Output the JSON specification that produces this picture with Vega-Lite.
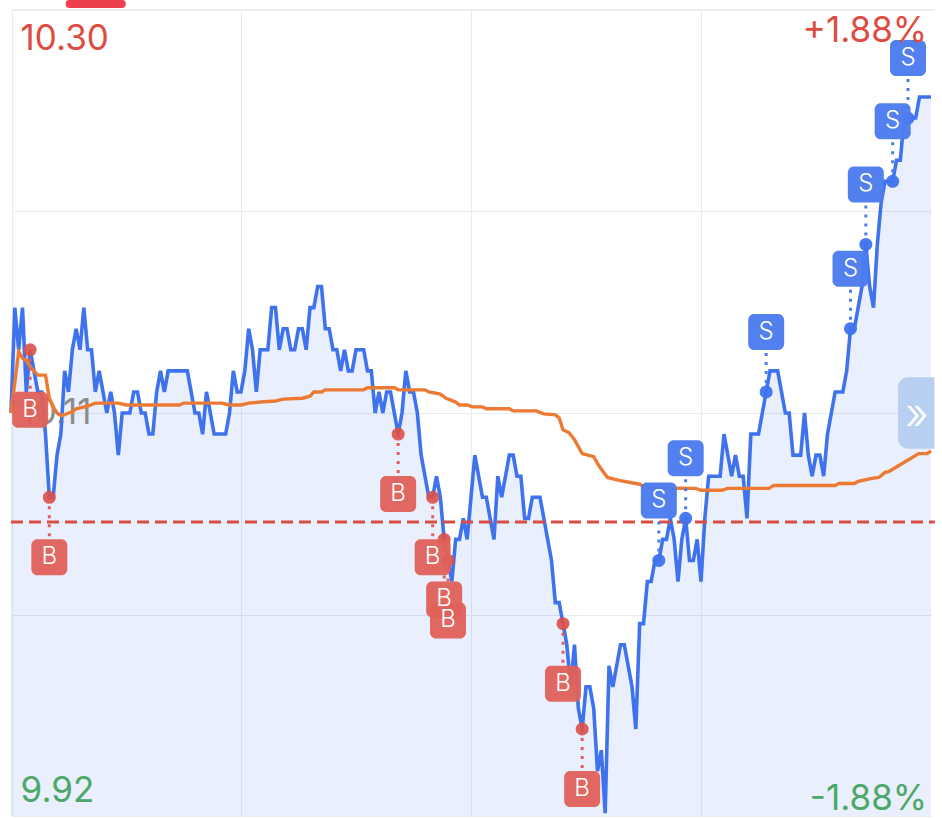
{"$schema":"https://vega.github.io/schema/vega-lite/v6.json","width":920,"height":806,"padding":{"left":11,"top":10,"right":11,"bottom":2},"autosize":"none","background":"#ffffff","config":{"view":{"stroke":null},"font":"Inter"},
"datasets":{
"blue":[{"m":0,"p":10.11},{"m":1,"p":10.16},{"m":2,"p":10.14},{"m":3,"p":10.16},{"m":4,"p":10.12},{"m":5,"p":10.14},{"m":6,"p":10.13},{"m":7,"p":10.12},{"m":8,"p":10.12},{"m":9,"p":10.10},{"m":10,"p":10.07},{"m":11,"p":10.07},{"m":12,"p":10.09},{"m":13,"p":10.10},{"m":14,"p":10.13},{"m":15,"p":10.12},{"m":16,"p":10.14},{"m":17,"p":10.15},{"m":18,"p":10.14},{"m":19,"p":10.16},{"m":20,"p":10.14},{"m":21,"p":10.14},{"m":22,"p":10.12},{"m":23,"p":10.13},{"m":24,"p":10.12},{"m":25,"p":10.11},{"m":26,"p":10.12},{"m":27,"p":10.11},{"m":28,"p":10.09},{"m":29,"p":10.11},{"m":30,"p":10.11},{"m":31,"p":10.11},{"m":32,"p":10.12},{"m":33,"p":10.12},{"m":34,"p":10.11},{"m":35,"p":10.11},{"m":36,"p":10.10},{"m":37,"p":10.10},{"m":38,"p":10.12},{"m":39,"p":10.13},{"m":40,"p":10.12},{"m":41,"p":10.13},{"m":42,"p":10.13},{"m":43,"p":10.13},{"m":44,"p":10.13},{"m":45,"p":10.13},{"m":46,"p":10.13},{"m":47,"p":10.12},{"m":48,"p":10.11},{"m":49,"p":10.11},{"m":50,"p":10.10},{"m":51,"p":10.12},{"m":52,"p":10.11},{"m":53,"p":10.10},{"m":54,"p":10.10},{"m":55,"p":10.10},{"m":56,"p":10.10},{"m":57,"p":10.11},{"m":58,"p":10.13},{"m":59,"p":10.12},{"m":60,"p":10.12},{"m":61,"p":10.13},{"m":62,"p":10.15},{"m":63,"p":10.14},{"m":64,"p":10.12},{"m":65,"p":10.14},{"m":66,"p":10.14},{"m":67,"p":10.14},{"m":68,"p":10.16},{"m":69,"p":10.16},{"m":70,"p":10.14},{"m":71,"p":10.15},{"m":72,"p":10.15},{"m":73,"p":10.14},{"m":74,"p":10.14},{"m":75,"p":10.15},{"m":76,"p":10.15},{"m":77,"p":10.14},{"m":78,"p":10.16},{"m":79,"p":10.16},{"m":80,"p":10.17},{"m":81,"p":10.17},{"m":82,"p":10.15},{"m":83,"p":10.15},{"m":84,"p":10.14},{"m":85,"p":10.14},{"m":86,"p":10.13},{"m":87,"p":10.14},{"m":88,"p":10.13},{"m":89,"p":10.13},{"m":90,"p":10.14},{"m":91,"p":10.14},{"m":92,"p":10.14},{"m":93,"p":10.13},{"m":94,"p":10.13},{"m":95,"p":10.11},{"m":96,"p":10.12},{"m":97,"p":10.11},{"m":98,"p":10.12},{"m":99,"p":10.12},{"m":100,"p":10.11},{"m":101,"p":10.10},{"m":102,"p":10.11},{"m":103,"p":10.13},{"m":104,"p":10.12},{"m":105,"p":10.12},{"m":106,"p":10.11},{"m":107,"p":10.09},{"m":108,"p":10.08},{"m":109,"p":10.07},{"m":110,"p":10.07},{"m":111,"p":10.08},{"m":112,"p":10.07},{"m":113,"p":10.05},{"m":114,"p":10.04},{"m":115,"p":10.03},{"m":116,"p":10.05},{"m":117,"p":10.05},{"m":118,"p":10.06},{"m":119,"p":10.05},{"m":120,"p":10.07},{"m":121,"p":10.09},{"m":122,"p":10.08},{"m":123,"p":10.07},{"m":124,"p":10.07},{"m":125,"p":10.06},{"m":126,"p":10.05},{"m":127,"p":10.08},{"m":128,"p":10.07},{"m":129,"p":10.08},{"m":130,"p":10.09},{"m":131,"p":10.09},{"m":132,"p":10.08},{"m":133,"p":10.08},{"m":134,"p":10.06},{"m":135,"p":10.06},{"m":136,"p":10.07},{"m":137,"p":10.07},{"m":138,"p":10.07},{"m":139,"p":10.06},{"m":140,"p":10.05},{"m":141,"p":10.04},{"m":142,"p":10.02},{"m":143,"p":10.02},{"m":144,"p":10.01},{"m":145,"p":10.00},{"m":146,"p":9.98},{"m":147,"p":10.00},{"m":148,"p":9.97},{"m":149,"p":9.96},{"m":150,"p":9.98},{"m":151,"p":9.98},{"m":152,"p":9.97},{"m":153,"p":9.94},{"m":154,"p":9.95},{"m":155,"p":9.92},{"m":156,"p":9.99},{"m":157,"p":9.98},{"m":158,"p":9.99},{"m":159,"p":10.00},{"m":160,"p":10.00},{"m":161,"p":9.99},{"m":162,"p":9.98},{"m":163,"p":9.96},{"m":164,"p":10.01},{"m":165,"p":10.01},{"m":166,"p":10.03},{"m":167,"p":10.03},{"m":168,"p":10.04},{"m":169,"p":10.04},{"m":170,"p":10.05},{"m":171,"p":10.05},{"m":172,"p":10.06},{"m":173,"p":10.05},{"m":174,"p":10.03},{"m":175,"p":10.05},{"m":176,"p":10.06},{"m":177,"p":10.04},{"m":178,"p":10.04},{"m":179,"p":10.05},{"m":180,"p":10.03},{"m":181,"p":10.06},{"m":182,"p":10.08},{"m":183,"p":10.08},{"m":184,"p":10.08},{"m":185,"p":10.08},{"m":186,"p":10.10},{"m":187,"p":10.09},{"m":188,"p":10.08},{"m":189,"p":10.09},{"m":190,"p":10.08},{"m":191,"p":10.08},{"m":192,"p":10.06},{"m":193,"p":10.10},{"m":194,"p":10.10},{"m":195,"p":10.10},{"m":196,"p":10.11},{"m":197,"p":10.12},{"m":198,"p":10.13},{"m":199,"p":10.13},{"m":200,"p":10.13},{"m":201,"p":10.12},{"m":202,"p":10.11},{"m":203,"p":10.11},{"m":204,"p":10.09},{"m":205,"p":10.09},{"m":206,"p":10.09},{"m":207,"p":10.11},{"m":208,"p":10.09},{"m":209,"p":10.08},{"m":210,"p":10.09},{"m":211,"p":10.09},{"m":212,"p":10.08},{"m":213,"p":10.10},{"m":214,"p":10.11},{"m":215,"p":10.12},{"m":216,"p":10.12},{"m":217,"p":10.12},{"m":218,"p":10.13},{"m":219,"p":10.15},{"m":220,"p":10.15},{"m":221,"p":10.16},{"m":222,"p":10.17},{"m":223,"p":10.19},{"m":224,"p":10.17},{"m":225,"p":10.16},{"m":226,"p":10.19},{"m":227,"p":10.21},{"m":228,"p":10.22},{"m":229,"p":10.22},{"m":230,"p":10.22},{"m":231,"p":10.23},{"m":232,"p":10.23},{"m":233,"p":10.25},{"m":234,"p":10.25},{"m":235,"p":10.25},{"m":236,"p":10.25},{"m":237,"p":10.26},{"m":238,"p":10.26},{"m":239,"p":10.26},{"m":240,"p":10.26}],
"avg":[{"m":0,"p":10.11},{"m":2,"p":10.139},{"m":3,"p":10.136},{"m":4,"p":10.135},{"m":5,"p":10.132},{"m":6,"p":10.13},{"m":7,"p":10.128},{"m":9,"p":10.128},{"m":10,"p":10.117},{"m":11,"p":10.113},{"m":12,"p":10.11},{"m":13,"p":10.1087},{"m":14,"p":10.1092},{"m":15,"p":10.11},{"m":16,"p":10.1105},{"m":17,"p":10.112},{"m":20,"p":10.1133},{"m":22,"p":10.1147},{"m":28,"p":10.1147},{"m":30,"p":10.1138},{"m":44,"p":10.1138},{"m":45,"p":10.1147},{"m":55,"p":10.1147},{"m":57,"p":10.1138},{"m":60,"p":10.1138},{"m":62,"p":10.1147},{"m":65,"p":10.1152},{"m":69,"p":10.1157},{"m":71,"p":10.1166},{"m":76,"p":10.117},{"m":78,"p":10.118},{"m":79,"p":10.12},{"m":81,"p":10.12},{"m":82,"p":10.121},{"m":92,"p":10.121},{"m":93,"p":10.122},{"m":100,"p":10.122},{"m":101,"p":10.121},{"m":108,"p":10.121},{"m":109,"p":10.12},{"m":112,"p":10.119},{"m":113.5,"p":10.117},{"m":116,"p":10.1152},{"m":117,"p":10.1138},{"m":119,"p":10.1138},{"m":120.4,"p":10.1129},{"m":123,"p":10.1129},{"m":124,"p":10.112},{"m":130,"p":10.112},{"m":131,"p":10.111},{"m":137,"p":10.111},{"m":139,"p":10.1096},{"m":142,"p":10.1091},{"m":143,"p":10.1077},{"m":144,"p":10.102},{"m":145.6,"p":10.1006},{"m":147,"p":10.0973},{"m":149,"p":10.0907},{"m":152,"p":10.0893},{"m":153.5,"p":10.0846},{"m":155.6,"p":10.0794},{"m":158.6,"p":10.078},{"m":164,"p":10.0762},{"m":165.5,"p":10.0744},{"m":178.6,"p":10.0742},{"m":180,"p":10.0733},{"m":185.5,"p":10.0733},{"m":186.9,"p":10.0742},{"m":197.7,"p":10.0742},{"m":199,"p":10.0756},{"m":215,"p":10.0756},{"m":216,"p":10.0765},{"m":220,"p":10.0765},{"m":221,"p":10.0775},{"m":224.6,"p":10.079},{"m":226.4,"p":10.0794},{"m":228,"p":10.0818},{"m":229,"p":10.0822},{"m":236.8,"p":10.0907},{"m":239,"p":10.0907},{"m":240,"p":10.092}],
"trades":[{"m":5,"p":10.14,"side":"B"},{"m":10,"p":10.07,"side":"B"},{"m":101,"p":10.10,"side":"B"},{"m":110,"p":10.07,"side":"B"},{"m":113,"p":10.05,"side":"B"},{"m":114,"p":10.04,"side":"B"},{"m":144,"p":10.01,"side":"B"},{"m":149,"p":9.96,"side":"B"},{"m":169,"p":10.04,"side":"S"},{"m":176,"p":10.06,"side":"S"},{"m":197,"p":10.12,"side":"S"},{"m":219,"p":10.15,"side":"S"},{"m":223,"p":10.19,"side":"S"},{"m":230,"p":10.22,"side":"S"},{"m":234,"p":10.25,"side":"S"}]
},
"encoding":{
"x":{"field":"m","type":"quantitative","scale":{"domain":[0,240],"nice":false,"zero":false},"axis":{"values":[0.2,60,120,180,241],"labels":false,"ticks":false,"domain":false,"title":null,"grid":true,"gridColor":"#e8ebf1","gridWidth":1}},
"y":{"field":"p","type":"quantitative","scale":{"domain":[9.9187,10.3013],"nice":false,"zero":false},"axis":{"values":[9.9187,10.0142,10.11,10.2058,10.3013],"labels":false,"ticks":false,"domain":false,"title":null,"grid":true,"gridColor":"#e8ebf1","gridWidth":1}}
},
"layer":[
{"data":{"name":"blue"},"mark":{"type":"area","color":"#3f73ee","opacity":0.115},"encoding":{"y2":{"datum":9.9187}}},
{"data":{"values":[{"t":"10.11","m":2.5,"p":10.11}]},"mark":{"type":"text","align":"left","baseline":"middle","fontSize":35,"color":"#8c8c8c"},"encoding":{"text":{"field":"t"}}},
{"data":{"name":"blue"},"mark":{"type":"line","color":"#3f73ee","strokeWidth":3.6,"strokeJoin":"miter","strokeMiterLimit":4}},
{"data":{"name":"avg"},"mark":{"type":"line","color":"#ec7a33","strokeWidth":3.4}},
{"data":{"values":[{"m":0,"m2":241,"p":10.0583}]},"mark":{"type":"rule","color":"#da4d44","strokeWidth":3,"strokeDash":[12,6]},"encoding":{"x2":{"field":"m2"}}},
{"data":{"name":"trades"},"transform":[{"filter":"datum.side==='B'"}],"mark":{"type":"rule","color":"#e0605a","strokeWidth":3,"strokeDash":[3,6],"y2Offset":40},"encoding":{"y2":{"field":"p"}}},
{"data":{"name":"trades"},"transform":[{"filter":"datum.side==='S'"}],"mark":{"type":"rule","color":"#4c7cee","strokeWidth":3,"strokeDash":[3,6],"y2Offset":-40},"encoding":{"y2":{"field":"p"}}},
{"data":{"name":"trades"},"transform":[{"filter":"datum.side==='B'"}],"mark":{"type":"point","shape":"circle","filled":true,"size":170,"color":"#dc5049","opacity":0.9}},
{"data":{"name":"trades"},"transform":[{"filter":"datum.side==='S'"}],"mark":{"type":"point","shape":"circle","filled":true,"size":170,"color":"#3f73ee","opacity":0.95}},
{"data":{"name":"trades"},"transform":[{"filter":"datum.side==='B'"}],"mark":{"type":"rect","width":36,"height":36,"cornerRadius":6,"color":"#e0605a","opacity":0.95,"yOffset":60}},
{"data":{"name":"trades"},"transform":[{"filter":"datum.side==='S'"}],"mark":{"type":"rect","width":36,"height":36,"cornerRadius":6,"color":"#4c7cee","opacity":0.97,"yOffset":-60}},
{"data":{"name":"trades"},"transform":[{"filter":"datum.side==='B'"}],"mark":{"type":"text","color":"#ffffff","fontSize":24,"fontWeight":300,"baseline":"middle","yOffset":60},"encoding":{"text":{"field":"side"}}},
{"data":{"name":"trades"},"transform":[{"filter":"datum.side==='S'"}],"mark":{"type":"text","color":"#ffffff","fontSize":24,"fontWeight":300,"baseline":"middle","yOffset":-60},"encoding":{"text":{"field":"side"}}},
{"data":{"values":[{"m":0.2,"m2":241,"p":10.3013}]},"mark":{"type":"rule","color":"#eeeeee","strokeWidth":2},"encoding":{"x2":{"field":"m2"}}},
{"data":{"values":[{"m":15.3,"m2":28.9,"p":10.3042}]},"mark":{"type":"rule","color":"#ee3f4d","strokeWidth":8,"strokeCap":"round"},"encoding":{"x2":{"field":"m2"}}},
{"data":{"values":[{"m":231.4,"m2":240.9,"p":10.127,"p2":10.093}]},"mark":{"type":"rect","color":"#b7d0f2","cornerRadiusTopLeft":10,"cornerRadiusBottomLeft":10},"encoding":{"x2":{"field":"m2"},"y2":{"field":"p2"}}},
{"data":{"values":[{"t":"»","m":236.3,"p":10.1085}]},"mark":{"type":"text","color":"#ffffff","fontSize":44,"fontWeight":300,"baseline":"middle","align":"center"},"encoding":{"text":{"field":"t"}}},
{"data":{"values":[{"t":"10.30","m":2.5,"p":10.2876,"c":"r"},{"t":"9.92","m":2.5,"p":9.9308,"c":"g"}]},"mark":{"type":"text","align":"left","baseline":"middle","fontSize":35},"encoding":{"text":{"field":"t"},"color":{"field":"c","type":"nominal","legend":null,"scale":{"domain":["r","g"],"range":["#de4b40","#4ba868"]}}}},
{"data":{"values":[{"t":"+1.88%","m":239,"p":10.2913,"c":"r"},{"t":"-1.88%","m":239,"p":9.9268,"c":"g"}]},"mark":{"type":"text","align":"right","baseline":"middle","fontSize":35},"encoding":{"text":{"field":"t"},"color":{"field":"c","type":"nominal","legend":null,"scale":{"domain":["r","g"],"range":["#de4b40","#4ba868"]}}}}
]}
